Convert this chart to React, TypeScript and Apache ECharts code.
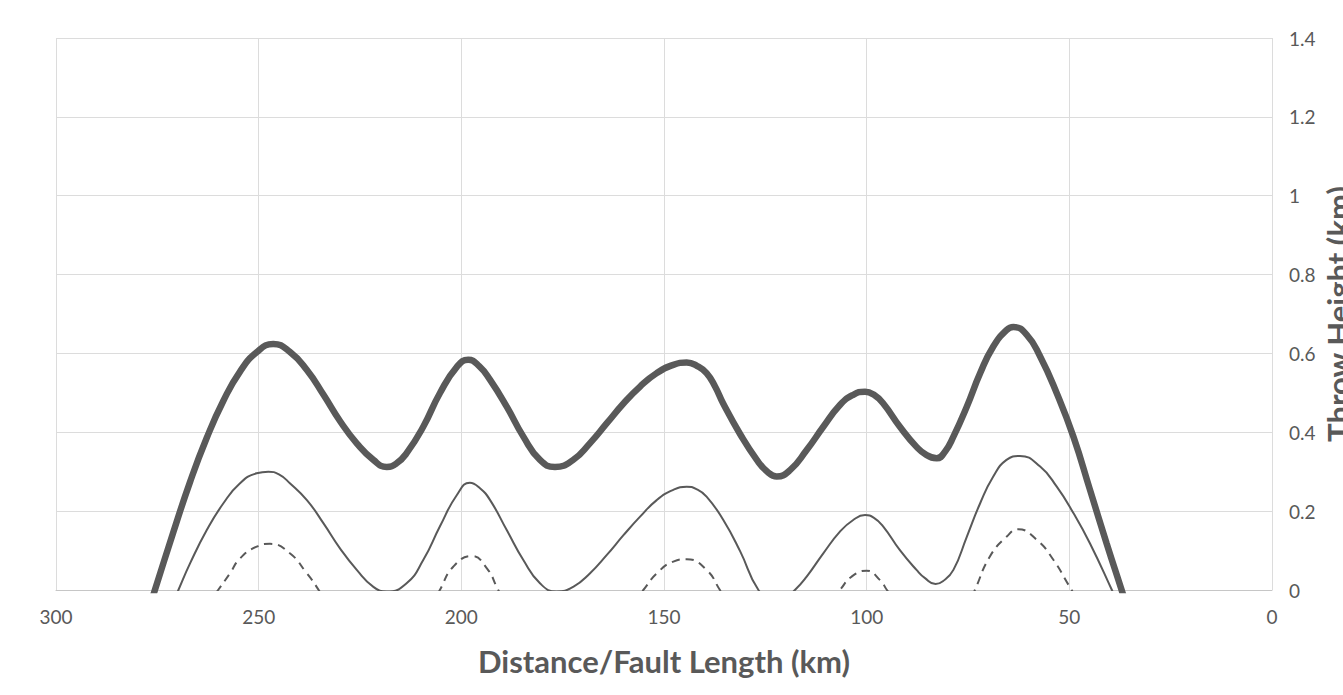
import React, { useEffect, useRef } from "react";
import * as echarts from "echarts";

// Distance (km) / throw height (km) readings for each profile
const thickProfile: [number, number][] = [
  [279, -0.11], [275.6, 0], [271.1, 0.145], [266.9, 0.275], [262.8, 0.386], [258.7, 0.48],
  [254.6, 0.554], [250.5, 0.603], [246.4, 0.624], [242.3, 0.604], [238.1, 0.558], [234.0, 0.495],
  [229.9, 0.428], [225.8, 0.372], [221.7, 0.33], [218.4, 0.312], [216.0, 0.321], [213.5, 0.347], [209.4, 0.414],
  [205.3, 0.499], [201.1, 0.566], [198.3, 0.584], [195.6, 0.568], [192.9, 0.533], [188.8, 0.465], [184.7, 0.389],
  [180.6, 0.33], [176.9, 0.312], [172.4, 0.33], [168.3, 0.372], [164.1, 0.423], [160.0, 0.473],
  [155.9, 0.516], [151.8, 0.55], [147.7, 0.571], [144.4, 0.577], [141.8, 0.568], [139.5, 0.55], [137.4, 0.516],
  [135.4, 0.473], [131.2, 0.395], [127.1, 0.33], [124.5, 0.3], [122.2, 0.288], [118.9, 0.304], [114.8, 0.355], [110.7, 0.414],
  [106.6, 0.469], [103.5, 0.494], [100.4, 0.503], [98.2, 0.495], [95.9, 0.473], [91.8, 0.414], [87.7, 0.363],
  [85.2, 0.342], [82.7, 0.334], [80.6, 0.352], [78.6, 0.389], [75.3, 0.465], [72.0, 0.55], [68.8, 0.617],
  [65.5, 0.659], [63.8, 0.667], [60.5, 0.647], [57.2, 0.592], [53.1, 0.499], [49.0, 0.389], [44.9, 0.254],
  [40.8, 0.118], [37.1, 0], [34, -0.1],
];

const thinProfile: [number, number][] = [
  [273, -0.075], [269.8, 0], [266.9, 0.068], [262.8, 0.152], [258.7, 0.22], [254.6, 0.271],
  [250.5, 0.296], [247.6, 0.3], [245.0, 0.293], [242.3, 0.271], [238.1, 0.228], [234.0, 0.169], [229.9, 0.105],
  [225.8, 0.051], [221.7, 0.008], [218.4, -0.004], [213.5, 0.017], [209.4, 0.076], [205.3, 0.161],
  [201.1, 0.241], [197.9, 0.272], [195.4, 0.258], [192.9, 0.228], [188.8, 0.152], [184.7, 0.076], [180.6, 0.017],
  [176.5, -0.004], [172.4, 0.008], [168.3, 0.042], [164.1, 0.089], [160.0, 0.139], [155.9, 0.186],
  [151.8, 0.228], [147.7, 0.254], [144.4, 0.262], [142.0, 0.256], [139.5, 0.237], [135.4, 0.178], [131.2, 0.098],
  [126.7, 0], [122.3, -0.04], [117.7, 0], [114.8, 0.034], [110.7, 0.093], [106.6, 0.148], [103.4, 0.177],
  [100.4, 0.19], [98.2, 0.183], [95.9, 0.161], [91.8, 0.101], [87.7, 0.051], [85.6, 0.03], [83.0, 0.015],
  [81.2, 0.022], [78.6, 0.051], [75.3, 0.135], [72.0, 0.22], [68.8, 0.287], [65.5, 0.33], [62.2, 0.34],
  [57.2, 0.313], [53.1, 0.262], [49.0, 0.195], [44.9, 0.118], [39.5, 0], [36, -0.08],
];

const dashedArch1: [number, number][] = [
  [262.5, -0.035], [260.0, 0], [257.1, 0.042], [254.6, 0.08], [250.5, 0.11], [247.2, 0.117],
  [242.3, 0.093], [238.1, 0.042], [235.7, 0.008], [233.5, -0.03],
];
const dashedArch2: [number, number][] = [
  [207.5, -0.04], [205.3, 0], [202.0, 0.059], [197.4, 0.086], [193.7, 0.055], [190.9, 0], [189, -0.035],
];
const dashedArch3: [number, number][] = [
  [157.5, -0.03], [155.1, 0], [151.8, 0.042], [147.7, 0.072], [144.4, 0.078], [139.5, 0.051],
  [136.2, 0], [134, -0.035],
];
const dashedArch4: [number, number][] = [
  [108.5, -0.025], [106.6, 0], [103.7, 0.034], [100.0, 0.049], [96.7, 0.025], [95.0, 0], [93.2, -0.025],
];
const dashedArch5: [number, number][] = [
  [75.5, -0.05], [73.3, 0], [69.6, 0.085], [65.5, 0.135], [62.6, 0.154], [58.0, 0.127],
  [53.9, 0.076], [50.2, 0.013], [48, -0.025],
];

const xTitle = "Distance/Fault Length (km)";
const yTitle = "Throw Height (km)";

export default function App() {
  const ref = useRef<HTMLDivElement>(null);

  useEffect(() => {
    if (!ref.current) return;
    const chart = echarts.init(ref.current, undefined, { renderer: "svg" });
    const lineColor = "#595959";
    const font = "Lato";
    const dashedData: any[] = [
      ...dashedArch1, ["-", "-"],
      ...dashedArch2, ["-", "-"],
      ...dashedArch3, ["-", "-"],
      ...dashedArch4, ["-", "-"],
      ...dashedArch5,
    ];
    chart.setOption({
      animation: false,
      backgroundColor: "#ffffff",
      grid: { left: 56, right: 71, top: 38, bottom: 105, containLabel: false },
      xAxis: {
        type: "value",
        min: 0,
        max: 300,
        interval: 50,
        inverse: true,
        position: "bottom",
        axisLine: { show: true, onZero: false, lineStyle: { color: "#c6c6c6", width: 1 } },
        axisTick: { show: false },
        splitLine: { show: true, lineStyle: { color: "#dcdcdc", width: 1 } },
        axisLabel: { color: lineColor, fontFamily: font, fontSize: 19, margin: 17 },
        name: xTitle,
        nameLocation: "middle",
        nameGap: 55,
        nameTextStyle: { color: lineColor, fontFamily: font, fontSize: 31, fontWeight: "bold" },
      },
      yAxis: {
        type: "value",
        min: 0,
        max: 1.4,
        interval: 0.2,
        position: "right",
        axisLine: { show: false },
        axisTick: { show: false },
        splitLine: { show: true, lineStyle: { color: "#dcdcdc", width: 1 } },
        axisLabel: { color: lineColor, fontFamily: font, fontSize: 19, margin: 17 },
      },
      graphic: [
        {
          type: "text",
          x: 1322,
          y: 314,
          rotation: Math.PI / 2,
          style: {
            text: yTitle,
            fill: lineColor,
            font: `bold 31px ${font}`,
            align: "center",
            verticalAlign: "top",
          },
        },
      ],
      series: [
        {
          name: "Dashed",
          type: "line",
          data: dashedData,
          smooth: 0.5,
          showSymbol: false,
          connectNulls: false,
          clip: true,
          lineStyle: { color: lineColor, width: 2, type: [8, 6] },
        },
        {
          name: "Thin",
          type: "line",
          data: thinProfile,
          smooth: 0.5,
          showSymbol: false,
          clip: true,
          lineStyle: { color: lineColor, width: 2 },
        },
        {
          name: "Thick",
          type: "line",
          data: thickProfile,
          smooth: 0.5,
          showSymbol: false,
          clip: true,
          lineStyle: { color: lineColor, width: 6.5 },
        },
      ],
    });
    return () => chart.dispose();
  }, []);

  return (
    <div
      ref={ref}
      style={{ position: "fixed", left: 0, top: 0, width: 1343, height: 695, background: "#fff" }}
    />
  );
}
